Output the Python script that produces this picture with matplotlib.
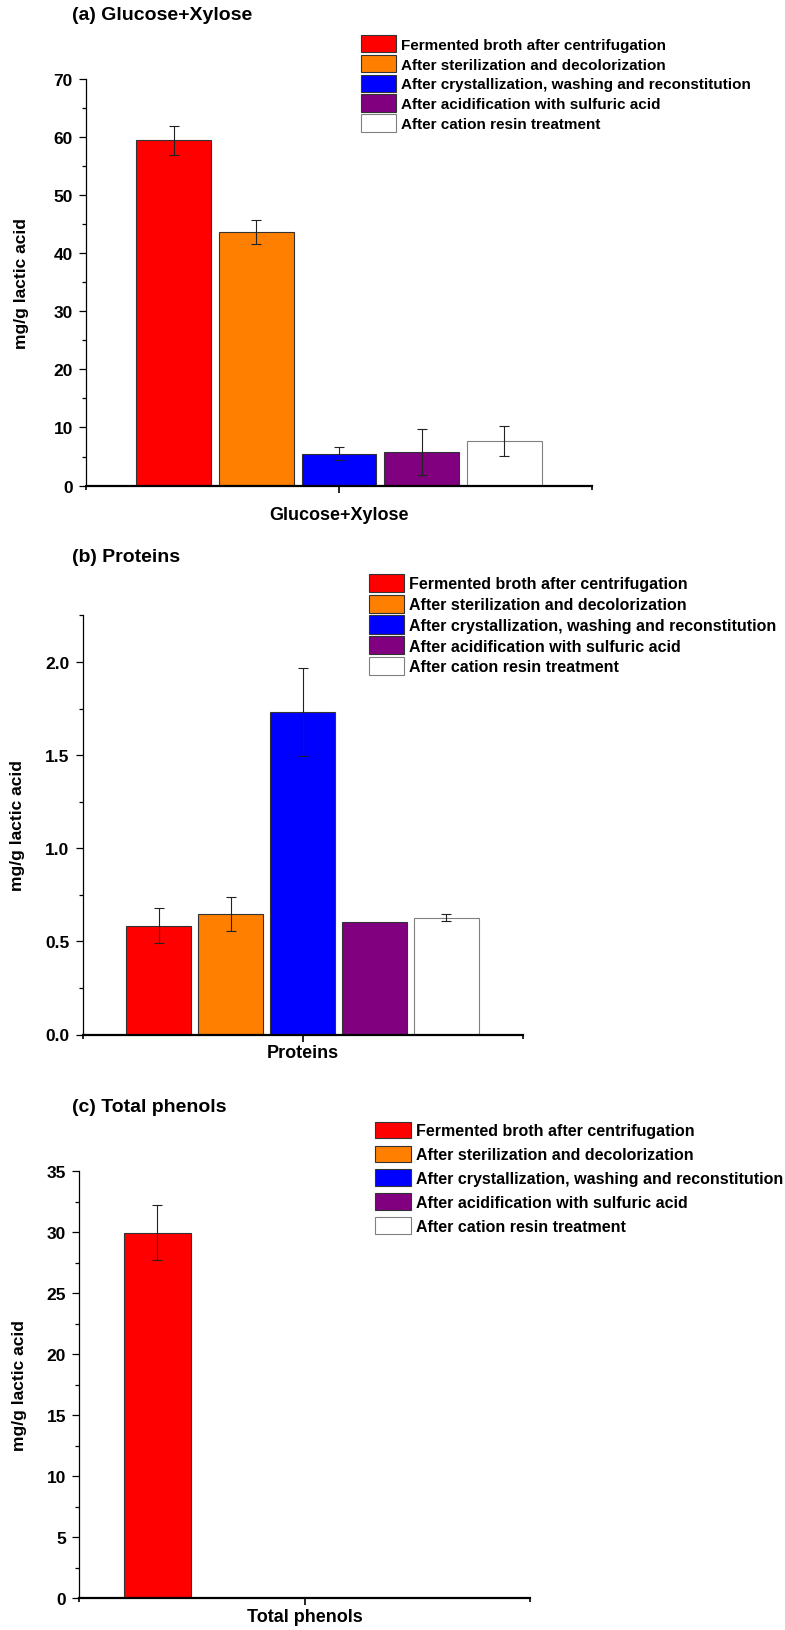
import numpy as np
import matplotlib
matplotlib.use("Agg")
import matplotlib.pyplot as plt
from matplotlib.patches import Patch
from matplotlib.ticker import MultipleLocator, FormatStrFormatter

plt.rcParams["font.family"] = ["Liberation Sans", "DejaVu Sans"]
plt.rcParams["font.weight"] = "bold"

stages = [
    "Fermented broth after centrifugation",
    "After sterilization and decolorization",
    "After crystallization, washing and reconstitution",
    "After acidification with sulfuric acid",
    "After cation resin treatment",
]
colors = ["#ff0000", "#ff8000", "#0000ff", "#800080", "#ffffff"]
edges = ["#333333", "#333333", "#333333", "#333333", "#808080"]

glucose_xylose = [59.4, 43.6, 5.46, 5.8, 7.7]
glucose_xylose_err = [2.5, 2.0, 1.1, 3.95, 2.53]

proteins = [0.585, 0.646, 1.732, 0.606, 0.628]
proteins_err = [0.092, 0.092, 0.236, 0.0, 0.017]

phenols = [29.95, None, None, None, None]
phenols_err = [2.25, None, None, None, None]

W, H = 785, 1631
fig = plt.figure(figsize=(W / 100, H / 100), dpi=100)


def px_axes(l, r, t, b):
    return fig.add_axes([l / W, 1 - b / H, (r - l) / W, (b - t) / H])


def panel(ax, vals, errs, name, ylim, major, xpad):
    xs = np.arange(len(vals)) - 2
    for x, v, e, c, ec in zip(xs, vals, errs, colors, edges):
        if v is None:
            continue
        ax.bar(x, v, 0.9, color=c, edgecolor=ec, linewidth=0.8, zorder=2)
        if e:
            ax.errorbar(x, v, yerr=e, fmt="none", ecolor="#222222",
                        elinewidth=0.8, capsize=3.5, capthick=0.8, zorder=3)
    ax.set_xlim(-3.06, 3.06)
    ax.set_ylim(*ylim)
    ax.yaxis.set_major_locator(MultipleLocator(major))
    ax.yaxis.set_minor_locator(MultipleLocator(major / 2))
    ax.set_xticks([0])
    ax.set_xticklabels([name], fontsize=13)
    ax.set_xticks([-3.06, 3.06], minor=True)
    ax.tick_params(axis="y", which="major", length=5, width=0.9, labelsize=12.5, pad=4.5)
    ax.tick_params(axis="y", which="minor", length=3, width=0.9)
    ax.tick_params(axis="x", which="major", length=5, width=1.2, pad=xpad)
    ax.tick_params(axis="x", which="minor", length=3, width=1.2)
    for s in ("top", "right"):
        ax.spines[s].set_visible(False)
    ax.spines["left"].set_linewidth(0.9)
    ax.spines["bottom"].set_linewidth(1.6)
    ax.spines["bottom"].set_zorder(4)


def legend(ax, x, ytop, fs, hl, hh, ls):
    handles = [Patch(facecolor=c, edgecolor=ec, linewidth=0.8) for c, ec in zip(colors, edges)]
    ax.legend(handles, stages, loc="upper left", bbox_to_anchor=(x / W, 1 - ytop / H),
              bbox_transform=fig.transFigure, frameon=False, borderpad=0,
              borderaxespad=0, handlelength=hl, handleheight=hh,
              handletextpad=0.33, labelspacing=ls, prop={"size": fs, "weight": "bold"})


def ylabel(xc, t, b):
    fig.text(xc / W, 1 - (t + b) / 2 / H, "mg/g lactic acid", rotation=90,
             ha="center", va="center", fontsize=12.5, fontweight="bold")


# (a) Glucose+Xylose
ax1 = px_axes(86, 592, 79.6, 486.6)
panel(ax1, glucose_xylose, glucose_xylose_err, "Glucose+Xylose", (0, 70), 10, 9.5)
legend(ax1, 361, 36, 11, 2.29, 1.365, 0.164)
ylabel(22, 79.6, 486.6)
fig.text(72.5 / W, 1 - 16 / H, "(a) Glucose+Xylose", fontsize=14, fontweight="bold", va="center")

# (b) Proteins
ax2 = px_axes(82.5, 522.5, 616.4, 1035.5)
panel(ax2, proteins, proteins_err, "Proteins", (0, 2.25), 0.5, 1.5)
ax2.yaxis.set_major_formatter(FormatStrFormatter("%.1f"))
legend(ax2, 369, 575, 11.5, 2.2, 1.386, 0.15)
ylabel(17.5, 616.4, 1035.5)
fig.text(72.5 / W, 1 - 557 / H, "(b) Proteins", fontsize=14, fontweight="bold", va="center")

# (c) Total phenols
ax3 = px_axes(79.3, 530, 1172, 1599)
panel(ax3, phenols, phenols_err, "Total phenols", (0, 35), 5, 2.5)
legend(ax3, 375, 1122.7, 11.5, 2.25, 1.232, 0.446)
ylabel(19.5, 1172, 1599)
fig.text(72.5 / W, 1 - 1107 / H, "(c) Total phenols", fontsize=14, fontweight="bold", va="center")

fig.savefig("out.png", dpi=100)
